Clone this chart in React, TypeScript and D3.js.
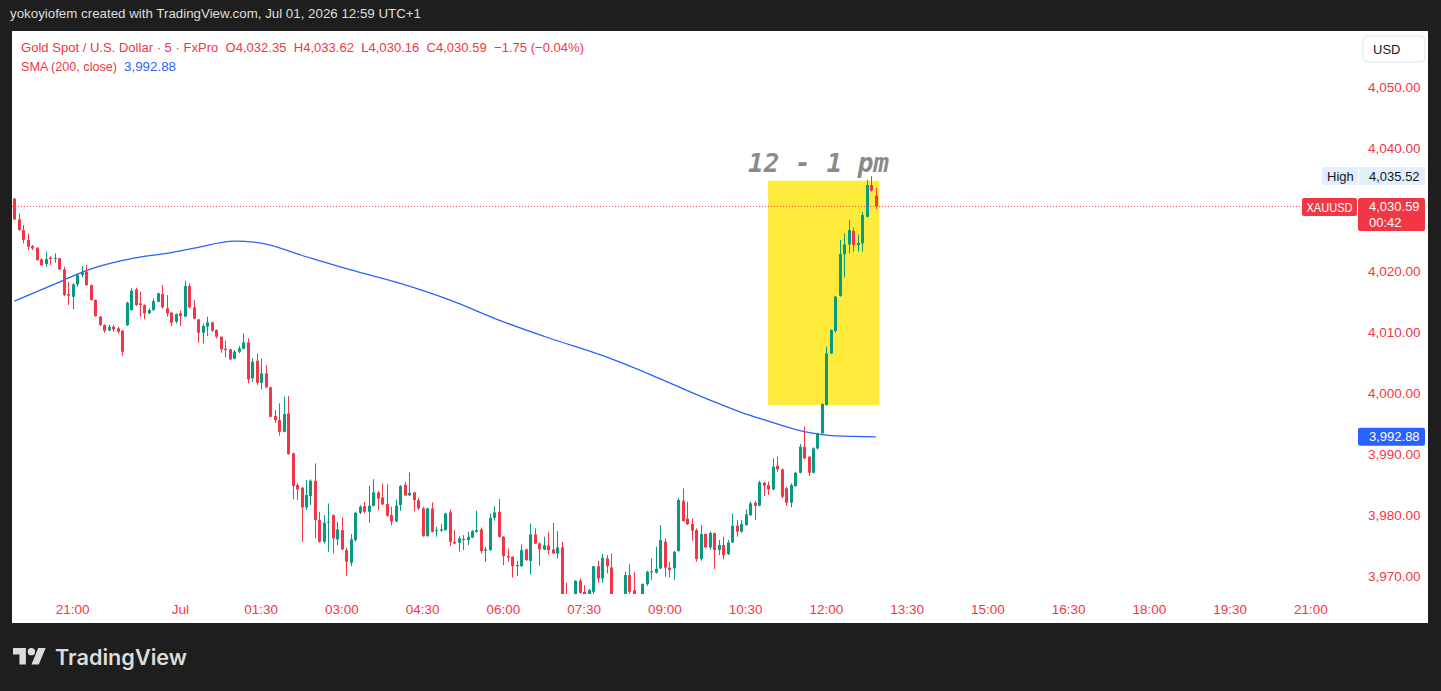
import React from 'react';
import * as d3 from 'd3';

// ---------- DATA ----------
const firstBarTime = '2026-06-30 19:55';
const opens = [4031.85,4028.47,4026.72,4025.09,4024.10,4023.83,4021.92,4021.16,4022.20,4021.98,4022.09,4020.29,4016.25,4015.81,4017.83,4019.36,4019.90,4017.72,4015.27,4012.54,4011.18,4010.30,4010.90,4010.63,4010.25,4011.18,4013.63,4017.01,4014.72,4014.45,4013.09,4013.63,4015.00,4016.25,4013.91,4013.20,4011.72,4013.09,4012.54,4017.56,4014.07,4012.11,4009.92,4010.91,4011.62,4010.36,4009.27,4007.31,4007.20,4005.67,4006.82,4007.31,4008.34,4002.45,4005.34,4001.74,4003.27,4000.98,3996.29,3995.63,3993.72,3996.72,3990.18,3985.00,3984.56,3981.34,3983.20,3985.70,3979.26,3975.72,3978.83,3980.08,3976.10,3977.62,3974.35,3972.28,3975.99,3980.46,3981.55,3980.63,3981.61,3983.79,3982.97,3981.88,3980.08,3979.04,3981.72,3985.04,3983.30,3983.79,3982.53,3981.17,3976.64,3981.17,3977.46,3977.52,3977.62,3980.52,3975.72,3975.55,3976.21,3975.99,3976.42,3977.35,3977.73,3974.24,3974.35,3979.64,3980.62,3976.53,3973.37,3973.26,3971.73,3971.73,3974.46,3972.60,3976.91,3975.44,3974.46,3975.12,3974.46,3973.81,3974.79,3965.90,3965.10,3966.20,3969.33,3967.50,3966.80,3967.53,3971.73,3969.71,3972.99,3971.51,3966.50,3966.00,3966.60,3970.26,3967.80,3966.80,3966.40,3968.79,3970.92,3970.65,3971.36,3975.72,3971.47,3971.36,3974.19,3982.43,3979.49,3978.61,3977.63,3972.89,3976.98,3974.80,3977.14,3974.36,3975.18,3973.70,3975.61,3978.34,3977.36,3978.45,3980.09,3982.10,3981.61,3985.38,3984.99,3984.28,3988.16,3987.56,3984.45,3982.10,3984.83,3987.01,3991.27,3989.63,3987.01,3990.99,3993.45,3998.09,4006.54,4010.20,4015.98,4022.75,4024.38,4026.56,4024.27,4024.55,4028.91,4034.09,4032.35];
const highs = [4031.96,4029.45,4027.54,4026.18,4024.27,4023.89,4022.09,4023.18,4022.47,4022.90,4022.20,4020.72,4018.27,4018.00,4019.63,4020.83,4021.00,4017.80,4015.38,4012.65,4011.29,4011.18,4011.18,4010.90,4010.36,4015.00,4017.18,4017.29,4016.63,4014.56,4013.90,4015.54,4016.47,4017.72,4016.09,4013.36,4013.09,4013.53,4018.43,4018.00,4015.27,4012.15,4011.45,4012.54,4011.72,4010.47,4009.30,4008.61,4007.31,4007.09,4007.74,4009.82,4009.00,4005.72,4006.54,4005.72,4004.63,4001.09,3997.27,3998.36,3999.45,3999.56,3990.29,3985.27,3984.72,3985.81,3985.92,3988.54,3980.63,3980.08,3981.99,3980.19,3978.99,3979.70,3974.79,3976.97,3980.63,3981.72,3982.26,3984.83,3985.97,3984.00,3985.26,3985.15,3981.44,3982.64,3984.99,3985.53,3987.06,3983.90,3982.81,3981.44,3981.28,3982.15,3978.17,3978.61,3980.46,3981.00,3977.62,3976.64,3976.81,3977.35,3977.62,3980.79,3978.06,3974.90,3980.35,3981.55,3982.70,3976.64,3974.62,3973.37,3972.60,3975.28,3974.62,3978.71,3977.90,3975.61,3976.53,3977.35,3978.82,3977.46,3975.71,3969.00,3967.00,3969.44,3969.72,3968.60,3968.00,3971.73,3972.60,3973.70,3973.53,3973.81,3967.10,3967.20,3970.80,3972.06,3970.80,3967.10,3968.90,3970.97,3972.99,3974.90,3978.45,3976.27,3972.45,3974.19,3982.81,3984.45,3982.27,3979.54,3977.90,3978.45,3977.09,3977.36,3977.20,3976.00,3976.54,3976.00,3980.36,3979.27,3979.27,3981.01,3982.27,3982.43,3985.70,3985.54,3985.54,3989.36,3989.63,3987.72,3984.72,3985.27,3987.17,3991.70,3994.54,3989.74,3991.16,3993.56,3998.36,4007.63,4010.47,4015.93,4025.09,4026.18,4028.36,4027.16,4026.00,4029.73,4034.91,4035.52,4033.62];
const lows = [4028.36,4026.62,4024.54,4023.45,4023.45,4021.70,4020.83,4020.72,4021.00,4021.38,4020.18,4015.92,4014.45,4013.74,4017.45,4018.98,4017.61,4015.16,4012.54,4011.01,4009.92,4010.20,4010.09,4009.81,4006.16,4011.01,4013.52,4014.29,4012.54,4012.10,4012.98,4013.52,4014.89,4013.90,4012.54,4011.02,4011.45,4011.02,4012.54,4013.91,4012.11,4008.29,4008.18,4009.38,4010.09,4009.00,4006.65,4005.89,4005.45,4005.56,4006.54,4007.20,4001.63,4001.91,4001.36,4000.65,4000.87,3996.07,3995.20,3993.07,3993.61,3989.96,3982.65,3982.54,3975.72,3980.90,3981.72,3976.27,3975.55,3975.44,3974.08,3973.81,3975.17,3974.35,3970.15,3971.73,3975.72,3980.24,3980.35,3978.82,3981.50,3980.90,3981.72,3979.81,3978.39,3978.93,3980.79,3983.19,3983.19,3980.73,3980.90,3976.53,3976.53,3977.24,3976.53,3977.35,3977.52,3975.01,3975.33,3974.08,3974.35,3975.17,3976.31,3977.19,3973.81,3972.44,3974.24,3979.15,3976.42,3971.90,3972.44,3969.82,3970.10,3971.62,3972.60,3970.37,3975.33,3971.79,3974.35,3973.64,3973.70,3972.99,3965.30,3964.50,3964.40,3965.50,3966.90,3966.40,3966.30,3967.20,3969.00,3969.00,3970.53,3965.80,3965.00,3965.40,3966.00,3966.60,3966.00,3965.50,3965.80,3968.50,3969.45,3970.54,3971.25,3970.00,3969.89,3969.45,3974.09,3979.00,3978.45,3975.88,3972.45,3972.61,3974.63,3974.36,3971.25,3973.54,3972.83,3973.54,3975.50,3976.54,3977.20,3978.34,3979.92,3979.27,3981.50,3983.20,3983.36,3984.17,3987.17,3982.81,3981.56,3981.34,3984.72,3986.90,3989.20,3986.47,3986.90,3990.83,3993.45,3997.98,4006.43,4009.93,4015.82,4018.98,4022.91,4023.18,4023.20,4023.18,4028.80,4033.00,4030.16];
const closes = [4028.47,4026.72,4025.09,4024.00,4023.72,4021.81,4021.00,4021.98,4021.98,4022.14,4020.29,4016.09,4015.98,4017.83,4019.36,4019.80,4017.72,4015.27,4012.65,4011.18,4010.25,4010.90,4010.47,4010.09,4006.81,4014.83,4016.80,4014.45,4014.45,4013.09,4013.63,4015.10,4016.36,4014.07,4013.09,4011.56,4012.98,4012.65,4017.56,4014.07,4012.22,4009.92,4011.02,4011.62,4010.25,4009.27,4007.20,4007.09,4005.56,4006.82,4007.36,4008.34,4002.29,4005.18,4001.74,4003.27,4000.98,3996.18,3995.63,3993.72,3996.61,3990.07,3984.83,3984.29,3981.34,3983.36,3985.70,3979.27,3975.72,3978.83,3978.99,3976.26,3977.73,3974.46,3972.44,3976.10,3980.46,3981.44,3980.63,3981.61,3983.79,3982.81,3981.83,3979.97,3979.04,3981.61,3984.83,3983.30,3983.73,3982.53,3981.17,3976.64,3981.17,3977.35,3977.62,3977.73,3980.35,3975.72,3975.44,3976.26,3975.99,3976.53,3977.46,3977.62,3974.19,3974.46,3979.64,3980.52,3976.53,3973.37,3973.15,3971.73,3971.90,3974.35,3972.71,3976.91,3975.44,3974.46,3975.12,3974.35,3973.81,3974.79,3965.80,3965.00,3966.00,3969.33,3967.37,3967.00,3967.80,3971.73,3969.71,3973.10,3971.73,3966.50,3966.00,3966.80,3970.26,3967.53,3966.80,3966.20,3968.79,3970.80,3970.81,3971.30,3976.00,3971.47,3971.09,3974.09,3982.54,3979.10,3978.61,3977.52,3972.89,3976.98,3974.80,3977.14,3974.36,3975.18,3973.54,3975.61,3978.34,3977.36,3978.61,3980.20,3981.99,3981.61,3985.43,3984.89,3984.28,3987.99,3987.56,3983.08,3982.10,3984.99,3987.01,3991.27,3989.36,3987.01,3990.99,3993.45,3998.25,4006.54,4010.36,4015.82,4022.80,4024.38,4026.73,4024.27,4024.60,4029.18,4034.09,4033.17,4030.59];

const smaBars = [0, 10, 16, 22, 28, 34, 41, 49, 55, 64, 75, 86, 97, 108, 119, 131, 142, 153, 162, 167, 176, 183, 192];
const smaValues = [4015.1, 4018.2, 4020.1, 4021.4, 4022.3, 4022.9, 4023.9, 4024.9, 4024.6, 4022.6, 4020.2, 4018.0, 4015.3, 4012.0, 4009.1, 4006.2, 4003.0, 3999.5, 3996.9, 3995.7, 3993.75, 3993.05, 3992.88];

// 4,030.00 is hidden behind the last-price label in the reference
const priceTicks = [4050, 4040, 4020, 4010, 4000, 3990, 3980, 3970];
const timeTickTimes = ['2026-06-30 21:00','2026-07-01 00:00','2026-07-01 01:30','2026-07-01 03:00','2026-07-01 04:30','2026-07-01 06:00','2026-07-01 07:30','2026-07-01 09:00','2026-07-01 10:30','2026-07-01 12:00','2026-07-01 13:30','2026-07-01 15:00','2026-07-01 16:30','2026-07-01 18:00','2026-07-01 19:30','2026-07-01 21:00'];
const timeTickLabels = ['21:00','Jul','01:30','03:00','04:30','06:00','07:30','09:00','10:30','12:00','13:30','15:00','16:30','18:00','19:30','21:00'];

const lastPrice = 4030.59;
const smaLast = 3992.88;
const highPrice = 4035.52;
const boxTimes = ['2026-07-01 10:55', '2026-07-01 12:59'];
const boxPrices = [4034.8, 3998.1];

// ---------- helpers ----------
const parse = d3.timeParse('%Y-%m-%d %H:%M');
const t0 = parse(firstBarTime)!.getTime();
const breakStart = parse('2026-06-30 23:00')!.getTime();
function barIndex(s: string): number {
  const t = parse(s)!.getTime();
  let m = (t - t0) / 60000;
  if (t >= breakStart) m -= 60;
  return m / 5;
}

const UP = '#089981';
const DOWN = '#f23645';
const RED = '#f23645';
const BLUE = '#2962ff';
const FONT = "'Liberation Sans', Arial, sans-serif";

export default function App() {
  const W = 1441, H = 691;
  const x = d3.scaleLinear().domain([13, 289]).range([72.7, 1311]);
  const y = d3.scaleLinear().domain([3970, 4050]).range([576.7, 87.8]);

  const smaLine = d3.line<number>()
    .x((_, i) => x(smaBars[i]))
    .y((d) => y(d))
    .curve(d3.curveMonotoneX);

  const bx0 = x(barIndex(boxTimes[0]));
  const bx1 = x(barIndex(boxTimes[1]));
  const by0 = y(boxPrices[0]);
  const by1 = y(boxPrices[1]);
  const yLast = y(lastPrice);

  return (
    <div style={{ position: 'absolute', left: 0, top: 0 }}>
      <svg width={W} height={H} style={{ display: 'block' }} fontFamily={FONT}>
        <defs>
          <clipPath id="pane">
            <rect x={12} y={31} width={1345} height={563} />
          </clipPath>
        </defs>
        <rect x={0} y={0} width={W} height={H} fill="#1e1e1e" />
        <text x={10} y={18} fontSize={13} fill="#dedede" textLength={411} lengthAdjust="spacingAndGlyphs">
          yokoyiofem created with TradingView.com, Jul 01, 2026 12:59 UTC+1
        </text>
        <rect x={12} y={31} width={1416} height={592} fill="#ffffff" />

        <g clipPath="url(#pane)">
          <rect x={bx0} y={by0} width={bx1 - bx0} height={by1 - by0} fill="#ffeb3b" />
          <line x1={12} x2={1302} y1={yLast} y2={yLast} stroke={RED} strokeWidth={1} strokeDasharray="1,2" />
          <path d={smaLine(smaValues) || ''} fill="none" stroke={BLUE} strokeWidth={1.3} />
          {opens.map((o, i) => {
            const c = closes[i];
            const hi = highs[i];
            const lo = lows[i];
            const col = c >= o ? UP : DOWN;
            const cx = Math.round(x(i));
            const top = y(Math.max(o, c));
            const bot = y(Math.min(o, c));
            return (
              <g key={i}>
                <line x1={cx + 0.5} x2={cx + 0.5} y1={y(hi)} y2={y(lo)} stroke={col} strokeWidth={1} />
                <rect x={cx - 1} y={top} width={3} height={Math.max(1, bot - top)} fill={col} />
              </g>
            );
          })}
        </g>

        <text x={bx0 - 20} y={171.5} fontFamily="'DejaVu Sans Mono', monospace" fontWeight="bold" fontStyle="italic" fontSize={26} fill="#8a8a8a">
          12 - 1 pm
        </text>

        <text x={21} y={51.5} fontSize={13} fill={RED} textLength={563} lengthAdjust="spacingAndGlyphs" style={{ whiteSpace: 'pre' }}>
          {'Gold Spot / U.S. Dollar · 5 · FxPro  O4,032.35  H4,033.62  L4,030.16  C4,030.59  \u22121.75 (\u22120.04%)'}
        </text>
        <text x={21} y={71} fontSize={13} fill={RED} textLength={96} lengthAdjust="spacingAndGlyphs">SMA (200, close)</text>
        <text x={124} y={71} fontSize={13} fill={BLUE} textLength={52} lengthAdjust="spacingAndGlyphs">3,992.88</text>

        <rect x={1363} y={36} width={62} height={26} rx={5} fill="#ffffff" stroke="#e0e3eb" />
        <text x={1373} y={49} fontSize={13} fill="#131722" dominantBaseline="central">USD</text>
        {priceTicks.map((p) => (
          <text key={p} x={1368} y={y(p)} fontSize={13.5} fill={RED} dominantBaseline="central">
            {d3.format(',.2f')(p)}
          </text>
        ))}
        <rect x={1322} y={167} width={103} height={18} fill="#e3effd" />
        <line x1={1358.5} x2={1358.5} y1={167} y2={185} stroke="#ffffff" />
        <text x={1327} y={y(highPrice)} fontSize={13} fill="#131722" dominantBaseline="central">High</text>
        <text x={1369} y={y(highPrice)} fontSize={13} fill="#131722" dominantBaseline="central">{d3.format(',.2f')(highPrice)}</text>

        <rect x={1302} y={198} width={55} height={18} rx={2} fill={RED} />
        <text x={1306.5} y={207.5} fontSize={12} fill="#ffffff" dominantBaseline="central" textLength={46} lengthAdjust="spacingAndGlyphs">XAUUSD</text>
        <rect x={1358} y={198} width={67} height={33} rx={2} fill={RED} />
        <text x={1369} y={yLast} fontSize={13} fill="#ffffff" dominantBaseline="central">{d3.format(',.2f')(lastPrice)}</text>
        <text x={1369} y={222} fontSize={13} fill="#ffffff" dominantBaseline="central">00:42</text>

        <rect x={1358} y={y(smaLast) - 9} width={67} height={18} rx={2} fill={BLUE} />
        <text x={1369} y={y(smaLast)} fontSize={13} fill="#ffffff" dominantBaseline="central">{d3.format(',.2f')(smaLast)}</text>

        {timeTickTimes.map((t, i) => (
          <text key={t} x={x(barIndex(t))} y={609} fontSize={13.5} fill={RED} textAnchor="middle" dominantBaseline="central">
            {timeTickLabels[i]}
          </text>
        ))}

        <g fill="#dcdcdc">
          <g transform="translate(13,644.3) scale(0.92)">
            <path d="M14 22H7V11H0V4h14v18zM28 22h-8l7.5-18h8L28 22z" />
            <circle cx={20} cy={8} r={4} />
          </g>
          <text x={55} y={665} fontFamily="Inter, 'Noto Sans', sans-serif" fontWeight={600} fontSize={21} textLength={132} lengthAdjust="spacingAndGlyphs">TradingView</text>
        </g>
      </svg>
    </div>
  );
}
